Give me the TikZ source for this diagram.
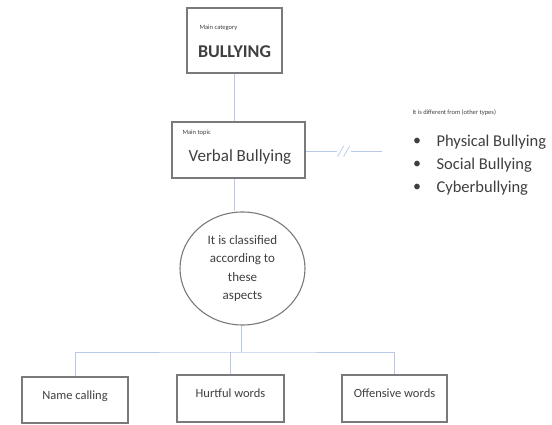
\documentclass[tikz,border=0pt]{standalone}
\usepackage{fontspec}
\setmainfont{Carlito}
\usetikzlibrary{shapes.geometric}
\definecolor{linkblue}{HTML}{B7C9E6}
\definecolor{boxgray}{HTML}{7A7A7A}
\definecolor{inkgray}{HTML}{3F3F3F}

\begin{document}
\begin{tikzpicture}[x=1pt,y=-1pt,text=inkgray,
		box/.style={draw=boxgray,line width=1.1pt,inner sep=0pt},
		link/.style={draw=linkblue,line width=1pt},
		tag/.style={font=\fontsize{6.5}{7}\selectfont,anchor=west},
		leaf/.style={font=\fontsize{12.5}{14}\selectfont}]
		\useasboundingbox (0,0) rectangle (552,425);
		% top of the tree
		\draw (234.5,40.5) node[box,minimum width=95pt,minimum height=65pt] (catbox) {} ;
		\draw (196,28) node[tag] (cattag) {Main category} ;
		\draw (234.5,52) node[font=\fontsize{18}{20}\selectfont\bfseries] (cat) {BULLYING} ;
		\draw (238.5,150) node[box,minimum width=133pt,minimum height=56pt] (verbalbox) {} ;
		\draw (179,133) node[tag] (verbaltag) {Main topic} ;
		\draw (240,157) node[font=\fontsize{17}{19}\selectfont] (verbal) {Verbal Bullying} ;
		\draw (242.5,268.5) node[draw=boxgray,line width=1.1pt,ellipse,minimum width=125pt,minimum height=113pt,inner sep=0pt,align=center,font=\fontsize{13}{18.5}\selectfont] (aspects) {It is classified\\according to\\these\\aspects} ;
		
		% other types
		\draw (409,113) node[tag] (othertag) {It is different from (other types)} ;
		\draw (417,142) node[font=\fontsize{16}{18}\selectfont] (dot1) {\textbullet} ;
		\draw (417,165) node[font=\fontsize{16}{18}\selectfont] (dot2) {\textbullet} ;
		\draw (417,188) node[font=\fontsize{16}{18}\selectfont] (dot3) {\textbullet} ;
		\draw (433,142) node[anchor=west,font=\fontsize{16.5}{18}\selectfont] (physical) {Physical Bullying} ;
		\draw (433,165) node[anchor=west,font=\fontsize{16.5}{18}\selectfont] (social) {Social Bullying} ;
		\draw (433,188) node[anchor=west,font=\fontsize{16.5}{18}\selectfont] (cyber) {Cyberbullying} ;
		
		% the three aspects
		\draw (75,400) node[box,minimum width=106pt,minimum height=46pt] (namebox) {} ;
		\draw (75,396) node[leaf] (name) {Name calling} ;
		\draw (230.5,398.5) node[box,minimum width=107pt,minimum height=47pt] (hurtbox) {} ;
		\draw (230.5,393) node[leaf] (hurt) {Hurtful words} ;
		\draw (394.5,398.5) node[box,minimum width=105pt,minimum height=47pt] (offendbox) {} ;
		\draw (394.5,393) node[leaf] (offend) {Offensive words} ;
		
		\coordinate (bar) at (241,352) ;
		\coordinate (otherend) at (382,152) ;
		\draw[link] (catbox.south) -- (catbox.south |- verbalbox.north) ;
		\draw[link] (verbalbox.south -| catbox.south) -- (aspects.north -| catbox.south) ;
		\draw[link] (verbalbox.east |- otherend) -- node[fill=white,inner sep=1pt,text=linkblue,font=\fontsize{15}{16}\selectfont\itshape]{//} (otherend) ;
		\draw[link] (aspects.south -| bar) -- (bar) ;
		\draw[link] (namebox.north) |- (bar) -| (offendbox.north) ;
		\draw[link] (hurtbox.north) -- (hurtbox.north |- bar) ;
\end{tikzpicture}
\end{document}
